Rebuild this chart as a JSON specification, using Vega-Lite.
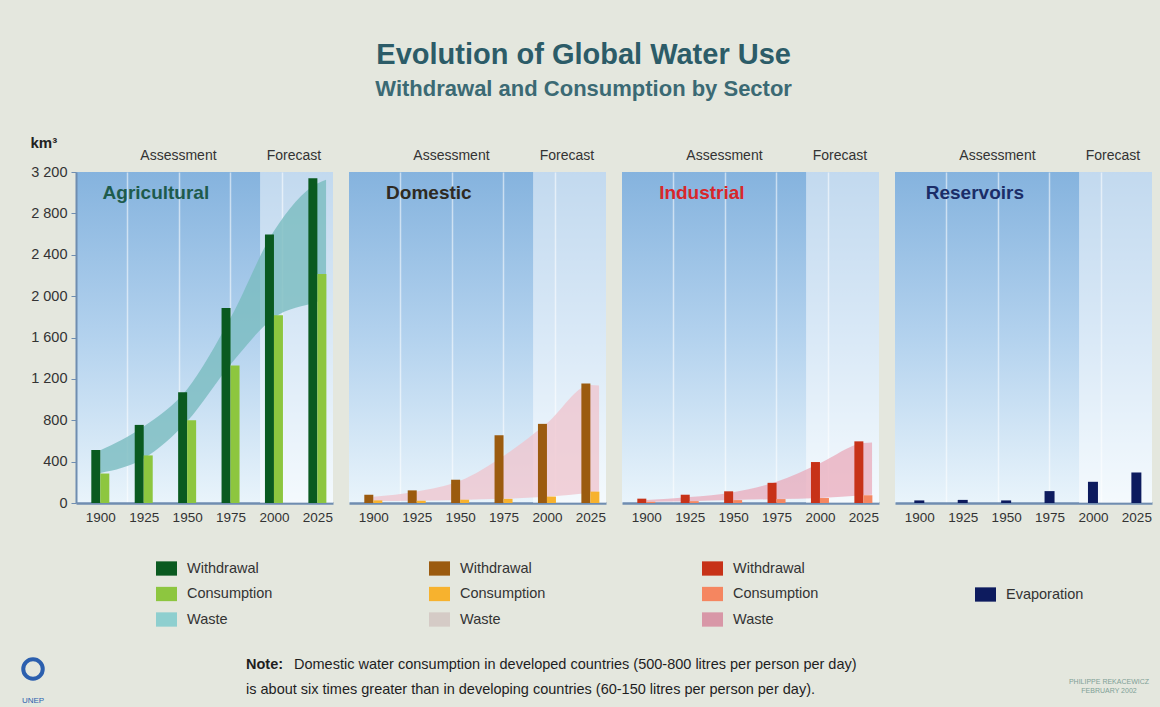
{
  "$schema": "https://vega.github.io/schema/vega-lite/v6.json",
  "autosize": {"type": "none"},
  "padding": {"left": 76, "top": 172, "right": 1084, "bottom": 535},
  "background": "#e4e7de",
  "title": {
    "text": "Evolution of Global Water Use",
    "subtitle": "Withdrawal and Consumption by Sector",
    "anchor": "middle",
    "font": "Liberation Sans",
    "fontSize": 29,
    "fontWeight": "bold",
    "color": "#2c5c68",
    "subtitleFont": "Liberation Sans",
    "subtitleFontSize": 22,
    "subtitleFontWeight": "bold",
    "subtitleColor": "#3b6a74",
    "subtitlePadding": 9,
    "offset": 35
  },
  "config": {
    "font": "Liberation Sans",
    "view": {"stroke": null},
    "axis": {"labelFont": "Liberation Sans", "titleFont": "Liberation Sans"},
    "legend": {"labelFont": "Liberation Sans"},
    "text": {"font": "Liberation Sans"}
  },
  "datasets": {
    "use": [
      {"sector": "Agricultural", "year": 1900, "measure": "Withdrawal", "value": 512},
      {"sector": "Agricultural", "year": 1925, "measure": "Withdrawal", "value": 755},
      {"sector": "Agricultural", "year": 1950, "measure": "Withdrawal", "value": 1070},
      {"sector": "Agricultural", "year": 1975, "measure": "Withdrawal", "value": 1885},
      {"sector": "Agricultural", "year": 2000, "measure": "Withdrawal", "value": 2595},
      {"sector": "Agricultural", "year": 2025, "measure": "Withdrawal", "value": 3140},
      {"sector": "Agricultural", "year": 1900, "measure": "Consumption", "value": 285},
      {"sector": "Agricultural", "year": 1925, "measure": "Consumption", "value": 460},
      {"sector": "Agricultural", "year": 1950, "measure": "Consumption", "value": 800},
      {"sector": "Agricultural", "year": 1975, "measure": "Consumption", "value": 1330},
      {"sector": "Agricultural", "year": 2000, "measure": "Consumption", "value": 1815},
      {"sector": "Agricultural", "year": 2025, "measure": "Consumption", "value": 2215},
      {"sector": "Domestic", "year": 1900, "measure": "Withdrawal", "value": 80},
      {"sector": "Domestic", "year": 1925, "measure": "Withdrawal", "value": 122},
      {"sector": "Domestic", "year": 1950, "measure": "Withdrawal", "value": 225},
      {"sector": "Domestic", "year": 1975, "measure": "Withdrawal", "value": 655},
      {"sector": "Domestic", "year": 2000, "measure": "Withdrawal", "value": 765},
      {"sector": "Domestic", "year": 2025, "measure": "Withdrawal", "value": 1155},
      {"sector": "Domestic", "year": 1900, "measure": "Consumption", "value": 25},
      {"sector": "Domestic", "year": 1925, "measure": "Consumption", "value": 22},
      {"sector": "Domestic", "year": 1950, "measure": "Consumption", "value": 32},
      {"sector": "Domestic", "year": 1975, "measure": "Consumption", "value": 40},
      {"sector": "Domestic", "year": 2000, "measure": "Consumption", "value": 62},
      {"sector": "Domestic", "year": 2025, "measure": "Consumption", "value": 110},
      {"sector": "Industrial", "year": 1900, "measure": "Withdrawal", "value": 42},
      {"sector": "Industrial", "year": 1925, "measure": "Withdrawal", "value": 80},
      {"sector": "Industrial", "year": 1950, "measure": "Withdrawal", "value": 113},
      {"sector": "Industrial", "year": 1975, "measure": "Withdrawal", "value": 195},
      {"sector": "Industrial", "year": 2000, "measure": "Withdrawal", "value": 396},
      {"sector": "Industrial", "year": 2025, "measure": "Withdrawal", "value": 596},
      {"sector": "Industrial", "year": 1900, "measure": "Consumption", "value": 12},
      {"sector": "Industrial", "year": 1925, "measure": "Consumption", "value": 18},
      {"sector": "Industrial", "year": 1950, "measure": "Consumption", "value": 28},
      {"sector": "Industrial", "year": 1975, "measure": "Consumption", "value": 38},
      {"sector": "Industrial", "year": 2000, "measure": "Consumption", "value": 48},
      {"sector": "Industrial", "year": 2025, "measure": "Consumption", "value": 75},
      {"sector": "Reservoirs", "year": 1900, "measure": "Evaporation", "value": 25},
      {"sector": "Reservoirs", "year": 1925, "measure": "Evaporation", "value": 30},
      {"sector": "Reservoirs", "year": 1950, "measure": "Evaporation", "value": 25},
      {"sector": "Reservoirs", "year": 1975, "measure": "Evaporation", "value": 115},
      {"sector": "Reservoirs", "year": 2000, "measure": "Evaporation", "value": 205},
      {"sector": "Reservoirs", "year": 2025, "measure": "Evaporation", "value": 295}
    ],
    "waste": [
      {"sector": "Agricultural", "year": 1900, "low": 290, "high": 510},
      {"sector": "Agricultural", "year": 1925, "low": 430, "high": 740},
      {"sector": "Agricultural", "year": 1950, "low": 790, "high": 1100},
      {"sector": "Agricultural", "year": 1975, "low": 1340, "high": 1790},
      {"sector": "Agricultural", "year": 2000, "low": 1790, "high": 2630},
      {"sector": "Agricultural", "year": 2025, "low": 1945, "high": 3090},
      {"sector": "Agricultural", "year": 2030, "low": 1975, "high": 3125},
      {"sector": "Domestic", "year": 1900, "low": 20, "high": 60},
      {"sector": "Domestic", "year": 1925, "low": 22, "high": 112},
      {"sector": "Domestic", "year": 1950, "low": 30, "high": 215},
      {"sector": "Domestic", "year": 1975, "low": 40, "high": 455},
      {"sector": "Domestic", "year": 2000, "low": 60, "high": 770},
      {"sector": "Domestic", "year": 2025, "low": 100, "high": 1140},
      {"sector": "Domestic", "year": 2030, "low": 110, "high": 1135},
      {"sector": "Industrial", "year": 1900, "low": 12, "high": 30},
      {"sector": "Industrial", "year": 1925, "low": 18, "high": 58},
      {"sector": "Industrial", "year": 1950, "low": 28, "high": 105},
      {"sector": "Industrial", "year": 1975, "low": 38, "high": 205},
      {"sector": "Industrial", "year": 2000, "low": 48, "high": 385},
      {"sector": "Industrial", "year": 2025, "low": 75, "high": 580},
      {"sector": "Industrial", "year": 2030, "low": 80, "high": 585}
    ]
  },
  "spacing": 480.5,
  "bounds": "flush",
  "vconcat": [
    {
      "spacing": 16,
      "bounds": "flush",
      "resolve": {"scale": {"color": "independent"}, "legend": {"color": "independent"}},
      "hconcat": [
        {
          "width": 257, "height": 331,
          "view": {"stroke": null, "fill": {"gradient": "linear", "x1": 0, "y1": 0, "x2": 0, "y2": 1, "stops": [{"offset": 0, "color": "#85b3de"}, {"offset": 0.5, "color": "#b3d2ee"}, {"offset": 1, "color": "#e9f4fb"}]}},
          "resolve": {"axis": {"x": "independent"}},
          "layer": [
            {
              "data": {"values": [{"period": "Forecast", "start": 1992, "end": 2034}]},
              "mark": {"type": "rect", "color": "#ffffff", "opacity": 0.5},
              "encoding": {
                "x": {"field": "start", "type": "quantitative", "scale": {"domain": [1886, 2034], "nice": false, "zero": false, "padding": 0}, "axis": {"orient": "bottom", "values": [1915.6, 1945.2, 1974.8, 2004.4], "labels": false, "ticks": false, "domain": false, "grid": true, "gridColor": "#ffffff", "gridOpacity": 0.55, "gridWidth": 1.5, "title": null}},
                "x2": {"field": "end"},
                "y": {"datum": 0, "type": "quantitative", "scale": {"domain": [0, 3200], "nice": false, "padding": 0}, "axis": {"values": [0, 400, 800, 1200, 1600, 2000, 2400, 2800, 3200], "labelExpr": "replace(format(datum.value, ','), ',', ' ')", "labelFontSize": 14.5, "labelColor": "#333333", "labelPadding": 4, "tickColor": "#6f8db0", "tickSize": 5, "domainColor": "#6f8db0", "domainWidth": 2, "gridColor": "#ffffff", "gridOpacity": 0.55, "gridWidth": 1.5, "title": "km³", "titleAngle": 0, "titleX": -46, "titleY": -25, "titleAlign": "left", "titleBaseline": "alphabetic", "titleFontSize": 15, "titleFontWeight": "bold", "titleColor": "#222222"}},
                "y2": {"datum": 3200}
              }
            },
            {
              "data": {"name": "waste"},
              "transform": [{"filter": "datum.sector === 'Agricultural'"}],
              "mark": {"type": "area", "interpolate": "monotone", "color": "#79bcbf", "opacity": 0.8},
              "encoding": {
                "x": {"field": "year", "type": "quantitative", "axis": null},
                "y": {"field": "low", "type": "quantitative"},
                "y2": {"field": "high"}
              }
            },
            {
              "data": {"name": "use"},
              "transform": [{"filter": "datum.sector === 'Agricultural' && datum.measure === 'Withdrawal'"}],
              "mark": {"type": "bar", "orient": "vertical", "width": 9, "xOffset": -4.5},
              "encoding": {
                "x": {"field": "year", "type": "quantitative", "axis": {"orient": "bottom", "values": [1900, 1925, 1950, 1975, 2000, 2025], "format": "d", "labelFontSize": 13.5, "labelColor": "#333333", "labelPadding": 7, "ticks": false, "domainColor": "#6f8db0", "domainWidth": 2.5, "grid": false, "title": null}},
                "y": {"field": "value", "type": "quantitative"},
                "color": {"field": "measure", "type": "nominal", "scale": {"domain": ["Withdrawal", "Consumption", "Waste"], "range": ["#0a5a20", "#8dc63f", "#8ecfcf"]}, "legend": {"orient": "none", "legendX": 80, "legendY": 386, "title": null, "direction": "vertical", "symbolType": "M-1,-0.68L1,-0.68L1,0.68L-1,0.68Z", "symbolSize": 441, "symbolStrokeWidth": 0, "symbolOpacity": 1, "labelFontSize": 14.5, "labelColor": "#333333", "labelOffset": 10, "rowPadding": 7.5, "padding": 0}}
              }
            },
            {
              "data": {"name": "use"},
              "transform": [{"filter": "datum.sector === 'Agricultural' && datum.measure === 'Consumption'"}],
              "mark": {"type": "bar", "orient": "vertical", "width": 9, "xOffset": 4.5},
              "encoding": {
                "x": {"field": "year", "type": "quantitative", "axis": null},
                "y": {"field": "value", "type": "quantitative"},
                "color": {"field": "measure", "type": "nominal", "scale": {"domain": ["Withdrawal", "Consumption", "Waste"], "range": ["#0a5a20", "#8dc63f", "#8ecfcf"]}}
              }
            },
            {
              "data": {"values": [{"label": "Assessment"}]},
              "mark": {"type": "text", "dy": -16, "baseline": "middle", "fontSize": 14, "color": "#333333"},
              "encoding": {"x": {"datum": 1945, "type": "quantitative", "axis": null}, "y": {"datum": 3200, "type": "quantitative"}, "text": {"field": "label"}}
            },
            {
              "data": {"values": [{"label": "Forecast"}]},
              "mark": {"type": "text", "dy": -16, "baseline": "middle", "fontSize": 14, "color": "#333333"},
              "encoding": {"x": {"datum": 2011.5, "type": "quantitative", "axis": null}, "y": {"datum": 3200, "type": "quantitative"}, "text": {"field": "label"}}
            },
            {
              "data": {"values": [{"label": "Agricultural"}]},
              "mark": {"type": "text", "baseline": "middle", "fontSize": 19, "fontWeight": "bold", "color": "#1e5b4c"},
              "encoding": {"x": {"datum": 1932, "type": "quantitative", "axis": null}, "y": {"datum": 3000, "type": "quantitative"}, "text": {"field": "label"}}
            }
          ]
        },
        {
          "width": 257, "height": 331,
          "view": {"stroke": null, "fill": {"gradient": "linear", "x1": 0, "y1": 0, "x2": 0, "y2": 1, "stops": [{"offset": 0, "color": "#85b3de"}, {"offset": 0.5, "color": "#b3d2ee"}, {"offset": 1, "color": "#e9f4fb"}]}},
          "resolve": {"axis": {"x": "independent"}},
          "layer": [
            {
              "data": {"values": [{"period": "Forecast", "start": 1992, "end": 2034}]},
              "mark": {"type": "rect", "color": "#ffffff", "opacity": 0.5},
              "encoding": {
                "x": {"field": "start", "type": "quantitative", "scale": {"domain": [1886, 2034], "nice": false, "zero": false, "padding": 0}, "axis": {"orient": "bottom", "values": [1915.6, 1945.2, 1974.8, 2004.4], "labels": false, "ticks": false, "domain": false, "grid": true, "gridColor": "#ffffff", "gridOpacity": 0.55, "gridWidth": 1.5, "title": null}},
                "x2": {"field": "end"},
                "y": {"datum": 0, "type": "quantitative", "scale": {"domain": [0, 3200], "nice": false, "padding": 0}, "axis": {"values": [0, 400, 800, 1200, 1600, 2000, 2400, 2800, 3200], "labels": false, "ticks": false, "domain": false, "gridColor": "#ffffff", "gridOpacity": 0.55, "gridWidth": 1.5, "title": null}},
                "y2": {"datum": 3200}
              }
            },
            {
              "data": {"name": "waste"},
              "transform": [{"filter": "datum.sector === 'Domestic'"}],
              "mark": {"type": "area", "interpolate": "monotone", "color": "#efc3cc", "opacity": 0.75},
              "encoding": {
                "x": {"field": "year", "type": "quantitative", "axis": null},
                "y": {"field": "low", "type": "quantitative"},
                "y2": {"field": "high"}
              }
            },
            {
              "data": {"name": "use"},
              "transform": [{"filter": "datum.sector === 'Domestic' && datum.measure === 'Withdrawal'"}],
              "mark": {"type": "bar", "orient": "vertical", "width": 9, "xOffset": -4.5},
              "encoding": {
                "x": {"field": "year", "type": "quantitative", "axis": {"orient": "bottom", "values": [1900, 1925, 1950, 1975, 2000, 2025], "format": "d", "labelFontSize": 13.5, "labelColor": "#333333", "labelPadding": 7, "ticks": false, "domainColor": "#6f8db0", "domainWidth": 2.5, "grid": false, "title": null}},
                "y": {"field": "value", "type": "quantitative"},
                "color": {"field": "measure", "type": "nominal", "scale": {"domain": ["Withdrawal", "Consumption", "Waste"], "range": ["#9b5b0f", "#f7b22e", "#d5cbc6"]}, "legend": {"orient": "none", "legendX": 80, "legendY": 386, "title": null, "direction": "vertical", "symbolType": "M-1,-0.68L1,-0.68L1,0.68L-1,0.68Z", "symbolSize": 441, "symbolStrokeWidth": 0, "symbolOpacity": 1, "labelFontSize": 14.5, "labelColor": "#333333", "labelOffset": 10, "rowPadding": 7.5, "padding": 0}}
              }
            },
            {
              "data": {"name": "use"},
              "transform": [{"filter": "datum.sector === 'Domestic' && datum.measure === 'Consumption'"}],
              "mark": {"type": "bar", "orient": "vertical", "width": 9, "xOffset": 4.5},
              "encoding": {
                "x": {"field": "year", "type": "quantitative", "axis": null},
                "y": {"field": "value", "type": "quantitative"},
                "color": {"field": "measure", "type": "nominal", "scale": {"domain": ["Withdrawal", "Consumption", "Waste"], "range": ["#9b5b0f", "#f7b22e", "#d5cbc6"]}}
              }
            },
            {
              "data": {"values": [{"label": "Assessment"}]},
              "mark": {"type": "text", "dy": -16, "baseline": "middle", "fontSize": 14, "color": "#333333"},
              "encoding": {"x": {"datum": 1945, "type": "quantitative", "axis": null}, "y": {"datum": 3200, "type": "quantitative"}, "text": {"field": "label"}}
            },
            {
              "data": {"values": [{"label": "Forecast"}]},
              "mark": {"type": "text", "dy": -16, "baseline": "middle", "fontSize": 14, "color": "#333333"},
              "encoding": {"x": {"datum": 2011.5, "type": "quantitative", "axis": null}, "y": {"datum": 3200, "type": "quantitative"}, "text": {"field": "label"}}
            },
            {
              "data": {"values": [{"label": "Domestic"}]},
              "mark": {"type": "text", "baseline": "middle", "fontSize": 19, "fontWeight": "bold", "color": "#2f2a22"},
              "encoding": {"x": {"datum": 1932, "type": "quantitative", "axis": null}, "y": {"datum": 3000, "type": "quantitative"}, "text": {"field": "label"}}
            }
          ]
        },
        {
          "width": 257, "height": 331,
          "view": {"stroke": null, "fill": {"gradient": "linear", "x1": 0, "y1": 0, "x2": 0, "y2": 1, "stops": [{"offset": 0, "color": "#85b3de"}, {"offset": 0.5, "color": "#b3d2ee"}, {"offset": 1, "color": "#e9f4fb"}]}},
          "resolve": {"axis": {"x": "independent"}},
          "layer": [
            {
              "data": {"values": [{"period": "Forecast", "start": 1992, "end": 2034}]},
              "mark": {"type": "rect", "color": "#ffffff", "opacity": 0.5},
              "encoding": {
                "x": {"field": "start", "type": "quantitative", "scale": {"domain": [1886, 2034], "nice": false, "zero": false, "padding": 0}, "axis": {"orient": "bottom", "values": [1915.6, 1945.2, 1974.8, 2004.4], "labels": false, "ticks": false, "domain": false, "grid": true, "gridColor": "#ffffff", "gridOpacity": 0.55, "gridWidth": 1.5, "title": null}},
                "x2": {"field": "end"},
                "y": {"datum": 0, "type": "quantitative", "scale": {"domain": [0, 3200], "nice": false, "padding": 0}, "axis": {"values": [0, 400, 800, 1200, 1600, 2000, 2400, 2800, 3200], "labels": false, "ticks": false, "domain": false, "gridColor": "#ffffff", "gridOpacity": 0.55, "gridWidth": 1.5, "title": null}},
                "y2": {"datum": 3200}
              }
            },
            {
              "data": {"name": "waste"},
              "transform": [{"filter": "datum.sector === 'Industrial'"}],
              "mark": {"type": "area", "interpolate": "monotone", "color": "#eaa5b6", "opacity": 0.7},
              "encoding": {
                "x": {"field": "year", "type": "quantitative", "axis": null},
                "y": {"field": "low", "type": "quantitative"},
                "y2": {"field": "high"}
              }
            },
            {
              "data": {"name": "use"},
              "transform": [{"filter": "datum.sector === 'Industrial' && datum.measure === 'Withdrawal'"}],
              "mark": {"type": "bar", "orient": "vertical", "width": 9, "xOffset": -4.5},
              "encoding": {
                "x": {"field": "year", "type": "quantitative", "axis": {"orient": "bottom", "values": [1900, 1925, 1950, 1975, 2000, 2025], "format": "d", "labelFontSize": 13.5, "labelColor": "#333333", "labelPadding": 7, "ticks": false, "domainColor": "#6f8db0", "domainWidth": 2.5, "grid": false, "title": null}},
                "y": {"field": "value", "type": "quantitative"},
                "color": {"field": "measure", "type": "nominal", "scale": {"domain": ["Withdrawal", "Consumption", "Waste"], "range": ["#c73218", "#f58660", "#d897a7"]}, "legend": {"orient": "none", "legendX": 80, "legendY": 386, "title": null, "direction": "vertical", "symbolType": "M-1,-0.68L1,-0.68L1,0.68L-1,0.68Z", "symbolSize": 441, "symbolStrokeWidth": 0, "symbolOpacity": 1, "labelFontSize": 14.5, "labelColor": "#333333", "labelOffset": 10, "rowPadding": 7.5, "padding": 0}}
              }
            },
            {
              "data": {"name": "use"},
              "transform": [{"filter": "datum.sector === 'Industrial' && datum.measure === 'Consumption'"}],
              "mark": {"type": "bar", "orient": "vertical", "width": 9, "xOffset": 4.5},
              "encoding": {
                "x": {"field": "year", "type": "quantitative", "axis": null},
                "y": {"field": "value", "type": "quantitative"},
                "color": {"field": "measure", "type": "nominal", "scale": {"domain": ["Withdrawal", "Consumption", "Waste"], "range": ["#c73218", "#f58660", "#d897a7"]}}
              }
            },
            {
              "data": {"values": [{"label": "Assessment"}]},
              "mark": {"type": "text", "dy": -16, "baseline": "middle", "fontSize": 14, "color": "#333333"},
              "encoding": {"x": {"datum": 1945, "type": "quantitative", "axis": null}, "y": {"datum": 3200, "type": "quantitative"}, "text": {"field": "label"}}
            },
            {
              "data": {"values": [{"label": "Forecast"}]},
              "mark": {"type": "text", "dy": -16, "baseline": "middle", "fontSize": 14, "color": "#333333"},
              "encoding": {"x": {"datum": 2011.5, "type": "quantitative", "axis": null}, "y": {"datum": 3200, "type": "quantitative"}, "text": {"field": "label"}}
            },
            {
              "data": {"values": [{"label": "Industrial"}]},
              "mark": {"type": "text", "baseline": "middle", "fontSize": 19, "fontWeight": "bold", "color": "#d8262a"},
              "encoding": {"x": {"datum": 1932, "type": "quantitative", "axis": null}, "y": {"datum": 3000, "type": "quantitative"}, "text": {"field": "label"}}
            }
          ]
        },
        {
          "width": 257, "height": 331,
          "view": {"stroke": null, "fill": {"gradient": "linear", "x1": 0, "y1": 0, "x2": 0, "y2": 1, "stops": [{"offset": 0, "color": "#85b3de"}, {"offset": 0.5, "color": "#b3d2ee"}, {"offset": 1, "color": "#e9f4fb"}]}},
          "resolve": {"axis": {"x": "independent"}},
          "layer": [
            {
              "data": {"values": [{"period": "Forecast", "start": 1992, "end": 2034}]},
              "mark": {"type": "rect", "color": "#ffffff", "opacity": 0.5},
              "encoding": {
                "x": {"field": "start", "type": "quantitative", "scale": {"domain": [1886, 2034], "nice": false, "zero": false, "padding": 0}, "axis": {"orient": "bottom", "values": [1915.6, 1945.2, 1974.8, 2004.4], "labels": false, "ticks": false, "domain": false, "grid": true, "gridColor": "#ffffff", "gridOpacity": 0.55, "gridWidth": 1.5, "title": null}},
                "x2": {"field": "end"},
                "y": {"datum": 0, "type": "quantitative", "scale": {"domain": [0, 3200], "nice": false, "padding": 0}, "axis": {"values": [0, 400, 800, 1200, 1600, 2000, 2400, 2800, 3200], "labels": false, "ticks": false, "domain": false, "gridColor": "#ffffff", "gridOpacity": 0.55, "gridWidth": 1.5, "title": null}},
                "y2": {"datum": 3200}
              }
            },
            {
              "data": {"name": "use"},
              "transform": [{"filter": "datum.sector === 'Reservoirs'"}],
              "mark": {"type": "bar", "orient": "vertical", "width": 10},
              "encoding": {
                "x": {"field": "year", "type": "quantitative", "axis": {"orient": "bottom", "values": [1900, 1925, 1950, 1975, 2000, 2025], "format": "d", "labelFontSize": 13.5, "labelColor": "#333333", "labelPadding": 7, "ticks": false, "domainColor": "#6f8db0", "domainWidth": 2.5, "grid": false, "title": null}},
                "y": {"field": "value", "type": "quantitative"},
                "color": {"field": "measure", "type": "nominal", "scale": {"domain": ["Evaporation"], "range": ["#0d1b5e"]}, "legend": {"orient": "none", "legendX": 80, "legendY": 412, "title": null, "direction": "vertical", "symbolType": "M-1,-0.68L1,-0.68L1,0.68L-1,0.68Z", "symbolSize": 441, "symbolStrokeWidth": 0, "symbolOpacity": 1, "labelFontSize": 14.5, "labelColor": "#333333", "labelOffset": 10, "rowPadding": 7.5, "padding": 0}}
              }
            },
            {
              "data": {"values": [{"label": "Assessment"}]},
              "mark": {"type": "text", "dy": -16, "baseline": "middle", "fontSize": 14, "color": "#333333"},
              "encoding": {"x": {"datum": 1945, "type": "quantitative", "axis": null}, "y": {"datum": 3200, "type": "quantitative"}, "text": {"field": "label"}}
            },
            {
              "data": {"values": [{"label": "Forecast"}]},
              "mark": {"type": "text", "dy": -16, "baseline": "middle", "fontSize": 14, "color": "#333333"},
              "encoding": {"x": {"datum": 2011.5, "type": "quantitative", "axis": null}, "y": {"datum": 3200, "type": "quantitative"}, "text": {"field": "label"}}
            },
            {
              "data": {"values": [{"label": "Reservoirs"}]},
              "mark": {"type": "text", "baseline": "middle", "fontSize": 19, "fontWeight": "bold", "color": "#1b2d68"},
              "encoding": {"x": {"datum": 1932, "type": "quantitative", "axis": null}, "y": {"datum": 3000, "type": "quantitative"}, "text": {"field": "label"}}
            }
          ]
        }
      ]
    },
    {
      "width": 1076,
      "height": 50,
      "view": {"stroke": null, "fill": null},
      "data": {"values": [
        {"line": "1", "head": "Note:", "body": "Domestic water consumption in developed countries (500-800 litres per person per day)", "credit": "PHILIPPE REKACEWICZ"},
        {"line": "2", "head": "", "body": "is about six times greater than in developing countries (60-150 litres per person per day).", "credit": "FEBRUARY 2002"}
      ]},
      "encoding": {"y": {"field": "line", "type": "ordinal", "axis": null, "scale": {"type": "point", "padding": 0.5}}},
      "layer": [
        {
          "mark": {"type": "text", "align": "left", "baseline": "middle", "fontSize": 14.5, "fontWeight": "bold", "color": "#1e1e1e", "dx": -368},
          "encoding": {"text": {"field": "head"}}
        },
        {
          "transform": [{"filter": "datum.line === '1'"}],
          "mark": {"type": "text", "align": "left", "baseline": "middle", "fontSize": 14.5, "color": "#1e1e1e", "dx": -320},
          "encoding": {"text": {"field": "body"}}
        },
        {
          "transform": [{"filter": "datum.line === '2'"}],
          "mark": {"type": "text", "align": "left", "baseline": "middle", "fontSize": 14.5, "color": "#1e1e1e", "dx": -368},
          "encoding": {"text": {"field": "body"}}
        },
        {
          "transform": [{"filter": "datum.line === '1'"}],
          "mark": {"type": "text", "align": "center", "baseline": "middle", "fontSize": 7, "color": "#7f9f96", "dx": 495, "dy": 17},
          "encoding": {"text": {"field": "credit"}}
        },
        {
          "transform": [{"filter": "datum.line === '2'"}],
          "mark": {"type": "text", "align": "center", "baseline": "middle", "fontSize": 7, "color": "#7f9f96", "dx": 495, "dy": 1},
          "encoding": {"text": {"field": "credit"}}
        },
        {
          "transform": [{"filter": "datum.line === '1'"}],
          "mark": {"type": "point", "shape": "circle", "filled": false, "size": 380, "strokeWidth": 4, "color": "#2b5fae", "opacity": 1, "xOffset": -581, "yOffset": 4},
          "encoding": {}
        },
        {
          "transform": [{"filter": "datum.line === '2'"}],
          "mark": {"type": "text", "align": "center", "baseline": "middle", "fontSize": 8, "color": "#2b5fae", "dx": -581, "dy": 11},
          "encoding": {"text": {"value": "UNEP"}}
        }
      ]
    }
  ]
}
